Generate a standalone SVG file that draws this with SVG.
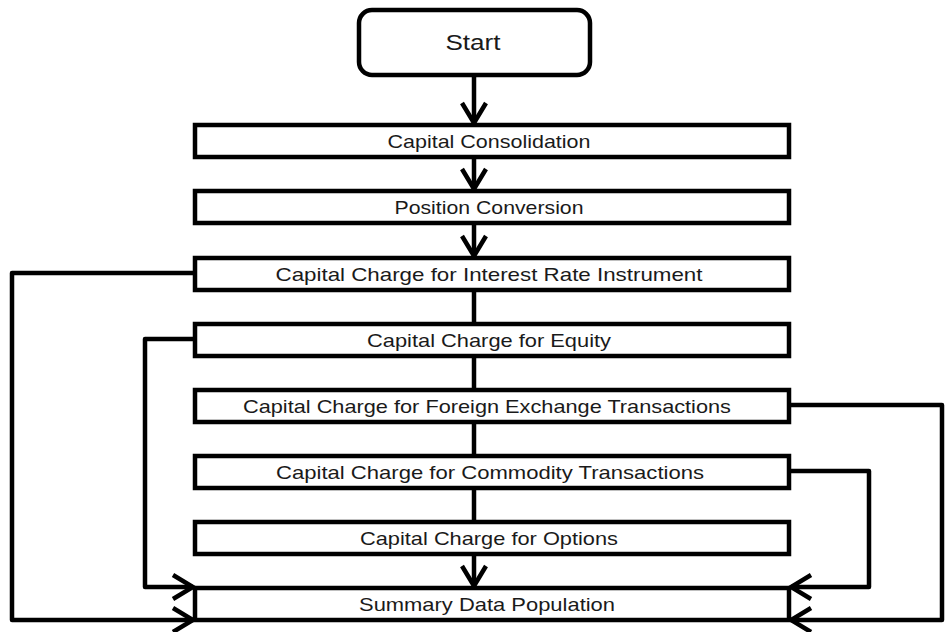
<svg xmlns="http://www.w3.org/2000/svg" width="946" height="632" viewBox="0 0 946 632">
<defs>
<style>
.box{fill:#fff;stroke:#000;stroke-width:4.5}
.lbl{font-family:"Liberation Sans","Open Sans",sans-serif;font-size:19px;fill:#1a1a1a;text-anchor:middle}
.ln{fill:none;stroke:#000;stroke-width:4.5;stroke-linejoin:round}
</style>
<marker id="ah" viewBox="0 0 26 30" refX="23" refY="15" markerWidth="26" markerHeight="30" markerUnits="userSpaceOnUse" orient="auto">
<path d="M3,3 L23,15 L3,27" fill="none" stroke="#000" stroke-width="4.5" stroke-linejoin="miter"/>
</marker>
</defs>
<rect width="946" height="632" fill="#fff"/>
<g id="connectors">
<path class="ln" d="M474,75 V123" marker-end="url(#ah)"/>
<path class="ln" d="M474,157 V189" marker-end="url(#ah)"/>
<path class="ln" d="M474,223 V256" marker-end="url(#ah)"/>
<path class="ln" d="M474,290 V324"/>
<path class="ln" d="M474,356 V390"/>
<path class="ln" d="M474,422 V456"/>
<path class="ln" d="M474,488 V522"/>
<path class="ln" d="M474,554 V586" marker-end="url(#ah)"/>
<path class="ln" d="M195,273 H12 V620 H193" marker-end="url(#ah)"/>
<path class="ln" d="M195,339 H145 V587 H193" marker-end="url(#ah)"/>
<path class="ln" d="M789,405 H942 V620 H791" marker-end="url(#ah)"/>
<path class="ln" d="M789,471 H869 V587 H791" marker-end="url(#ah)"/>
</g>
<g id="start">
<rect class="box" x="359" y="10" width="231" height="65" rx="13"/>
<text class="lbl" x="473" y="50" font-size="22" textLength="55" lengthAdjust="spacingAndGlyphs" style="font-size:22px">Start</text>
</g>
<g id="n1">
<rect class="box" x="195" y="125" width="594" height="32"/>
<text class="lbl" x="489" y="148" textLength="203" lengthAdjust="spacingAndGlyphs">Capital Consolidation</text>
</g>
<g id="n2">
<rect class="box" x="195" y="191" width="594" height="32"/>
<text class="lbl" x="489" y="214" textLength="189" lengthAdjust="spacingAndGlyphs">Position Conversion</text>
</g>
<g id="n3">
<rect class="box" x="195" y="258" width="594" height="32"/>
<text class="lbl" x="489" y="281" textLength="427" lengthAdjust="spacingAndGlyphs">Capital Charge for Interest Rate Instrument</text>
</g>
<g id="n4">
<rect class="box" x="195" y="324" width="594" height="32"/>
<text class="lbl" x="489" y="347" textLength="244" lengthAdjust="spacingAndGlyphs">Capital Charge for Equity</text>
</g>
<g id="n5">
<rect class="box" x="195" y="390" width="594" height="32"/>
<text class="lbl" x="487" y="413" textLength="488" lengthAdjust="spacingAndGlyphs">Capital Charge for Foreign Exchange Transactions</text>
</g>
<g id="n6">
<rect class="box" x="195" y="456" width="594" height="32"/>
<text class="lbl" x="490" y="479" textLength="428" lengthAdjust="spacingAndGlyphs">Capital Charge for Commodity Transactions</text>
</g>
<g id="n7">
<rect class="box" x="195" y="522" width="594" height="32"/>
<text class="lbl" x="489" y="545" textLength="258" lengthAdjust="spacingAndGlyphs">Capital Charge for Options</text>
</g>
<g id="n8">
<rect class="box" x="195" y="588" width="594" height="32"/>
<text class="lbl" x="487" y="611" textLength="256" lengthAdjust="spacingAndGlyphs">Summary Data Population</text>
</g>
</svg>
